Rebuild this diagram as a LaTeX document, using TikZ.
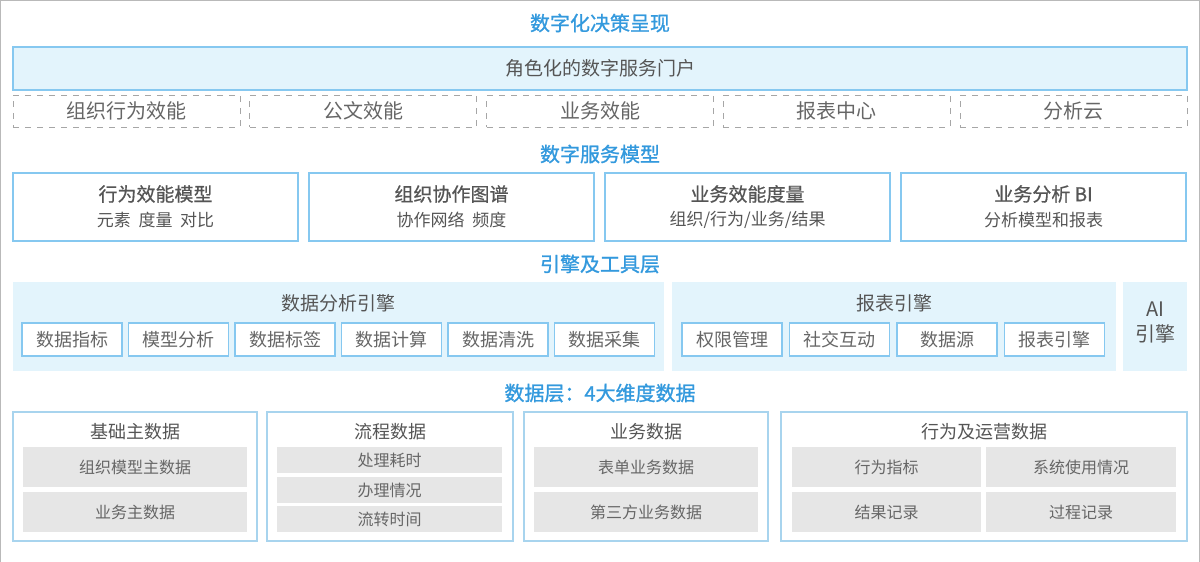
\documentclass[tikz,border=0pt]{standalone}
\usepackage{fontspec}
\setmainfont{Noto Sans CJK SC}
\newfontfamily\hdfont[FakeBold=1.2]{Noto Sans CJK SC}
\newfontfamily\midfont[FakeBold=0.7]{Noto Sans CJK SC}
\usepackage{xcolor}
\usepackage{tikz}
\usetikzlibrary{positioning}

\definecolor{hblue}{HTML}{3399DD}
\definecolor{lblue}{HTML}{E3F4FC}
\definecolor{bblue}{HTML}{86C8F0}
\definecolor{pblue}{HTML}{A8D4EE}
\definecolor{dtext}{HTML}{555555}
\definecolor{gtext}{HTML}{666666}
\definecolor{gfill}{HTML}{E6E6E6}

\begin{document}
\begin{tikzpicture}[x=0.5pt,y=-0.5pt,
  every node/.style={inner sep=0pt,outer sep=0pt,align=center},
  hd/.style={font=\hdfont\fontsize{10}{12}\selectfont,text=hblue},
  bar/.style={fill=lblue,draw=bblue,line width=0.6pt,minimum width=587pt,minimum height=21.5pt,text=dtext,font=\fontsize{9.5}{11}\selectfont},
  dbox/.style={draw=gray!70,dashed,minimum width=113.5pt,minimum height=16pt,text=gtext,font=\fontsize{10}{12}\selectfont},
  mbox/.style={draw=bblue,line width=0.6pt,minimum width=142.5pt,minimum height=34pt},
  mtit/.style={text=dtext,font=\midfont\fontsize{9.5}{11}\selectfont},
  msub/.style={text=dtext,font=\fontsize{8.5}{10}\selectfont},
  panel/.style={fill=lblue,minimum height=44.5pt},
  ptit/.style={text=dtext,font=\fontsize{9.5}{11}\selectfont},
  ebox/.style={fill=white,draw=bblue,line width=0.6pt,minimum width=50pt,minimum height=16.5pt,text=gtext,font=\fontsize{9}{11}\selectfont},
  dpanel/.style={fill=white,draw=pblue,line width=0.6pt,minimum height=64.5pt},
  dtit/.style={text=dtext,font=\fontsize{9}{11}\selectfont},
  item/.style={fill=gfill,minimum width=112pt,minimum height=20pt,text=gtext,font=\fontsize{8}{10}\selectfont}
]
\useasboundingbox (0,0) rectangle (1200,562);
\draw[gray!55,line width=0.8pt] (0.5,562) -- (0.5,0.5) -- (1199.5,0.5) -- (1199.5,562);

% presentation
\node[hd] (h1) at (600,23) {数字化决策呈现};
\node[bar] (portal) at (600,68.5) {角色化的数字服务门户};
\node[dbox] (d1) at (126.5,111)  {组织行为效能};
\node[dbox] (d2) at (363.25,111) {公文效能};
\node[dbox] (d3) at (600,111)    {业务效能};
\node[dbox] (d4) at (836.75,111) {报表中心};
\node[dbox] (d5) at (1073.5,111) {分析云};

% models
\node[hd] (h2) at (600,154) {数字服务模型};
\node[mbox] (m1) at (155.5,207) {};
\node[mbox] (m2) at (451.5,207) {};
\node[mbox] (m3) at (747.5,207) {};
\node[mbox] (m4) at (1043.5,207) {};
\node[mtit] (m1t) at (155.5,194) {行为效能模型};
\node[msub] (m1s) at (155.5,220) {元素\ \ 度量\ \ 对比};
\node[mtit] (m2t) at (451.5,194) {组织协作图谱};
\node[msub] (m2s) at (451.5,220) {协作网络\ \ 频度};
\node[mtit] (m3t) at (747.5,194) {业务效能度量};
\node[msub] (m3s) at (747.5,220) {组织/行为/业务/结果};
\node[mtit] (m4t) at (1043.5,194) {业务分析 BI};
\node[msub] (m4s) at (1043.5,220) {分析模型和报表};

% engines
\node[hd] (h3) at (600,264) {引擎及工具层};
\node[panel,minimum width=325.5pt] (pa) at (338.5,326.5) {};
\node[panel,minimum width=222pt] (pr) at (894,326.5) {};
\node[panel,minimum width=32pt] (pai) at (1155,326.5) {};
\node[ptit] (pat) at (338.5,303) {数据分析引擎};
\node[ptit] (prt) at (894,303) {报表引擎};
\node[ptit,font=\fontsize{10}{12.5}\selectfont] (ait) at (1155,322) {AI\\引擎};
\node[ebox] (e1) at (72,339.5)    {数据指标};
\node[ebox] (e2) at (178.5,339.5) {模型分析};
\node[ebox] (e3) at (285,339.5)   {数据标签};
\node[ebox] (e4) at (391.5,339.5) {数据计算};
\node[ebox] (e5) at (498,339.5)   {数据清洗};
\node[ebox] (e6) at (604.5,339.5) {数据采集};
\node[ebox] (r1) at (732,339.5)    {权限管理};
\node[ebox] (r2) at (839.5,339.5)  {社交互动};
\node[ebox] (r3) at (947,339.5)    {数据源};
\node[ebox] (r4) at (1054.5,339.5) {报表引擎};

% data layer
\node[hd] (h4) at (600,393) {数据层：4大维度数据};
\node[dpanel,minimum width=122pt] (q1) at (135,476.5) {};
\node[dpanel,minimum width=123pt] (q2) at (390,476.5) {};
\node[dpanel,minimum width=122pt] (q3) at (646,476.5) {};
\node[dpanel,minimum width=203pt] (q4) at (984,476.5) {};
\node[dtit] (q1t) at (135,432) {基础主数据};
\node[dtit] (q2t) at (390,432) {流程数据};
\node[dtit] (q3t) at (646,432) {业务数据};
\node[dtit] (q4t) at (984,432) {行为及运营数据};
\node[item] (i11) at (135,467) {组织模型主数据};
\node[item] (i12) at (135,512) {业务主数据};
\node[item,minimum width=112.5pt,minimum height=13pt] (i21) at (389.5,460) {处理耗时};
\node[item,minimum width=112.5pt,minimum height=13pt] (i22) at (389.5,490) {办理情况};
\node[item,minimum width=112.5pt,minimum height=13pt] (i23) at (389.5,519) {流转时间};
\node[item] (i31) at (646,467) {表单业务数据};
\node[item] (i32) at (646,512) {第三方业务数据};
\node[item,minimum width=94.5pt] (i41) at (886.5,467) {行为指标};
\node[item,minimum width=95pt]   (i42) at (1081,467)  {系统使用情况};
\node[item,minimum width=94.5pt] (i43) at (886.5,512) {结果记录};
\node[item,minimum width=95pt]   (i44) at (1081,512)  {过程记录};
\end{tikzpicture}
\end{document}
